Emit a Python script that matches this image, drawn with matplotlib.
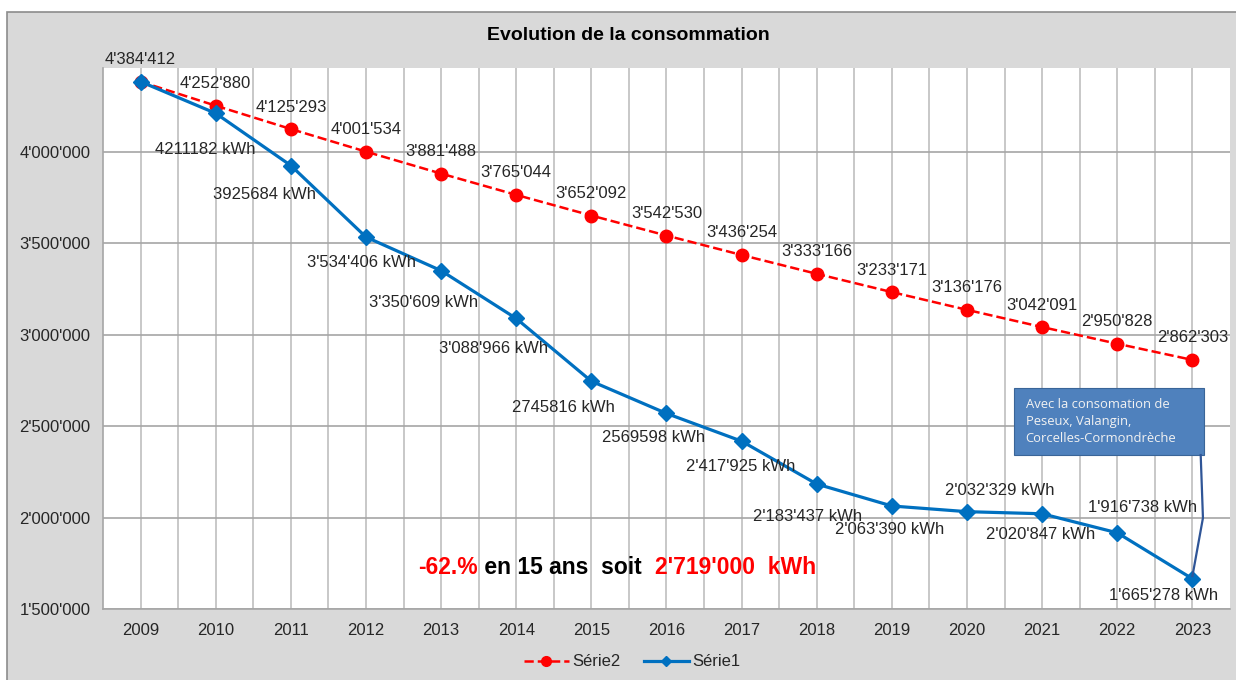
import matplotlib.pyplot as plt
from matplotlib.patches import Rectangle
from matplotlib.lines import Line2D
from matplotlib.ticker import FuncFormatter, MultipleLocator

plt.rcParams['font.family'] = ['Liberation Sans', 'DejaVu Sans']

# data
years = list(range(2009, 2024))
serie1 = [4384412, 4211182, 3925684, 3534406, 3350609, 3088966, 2745816, 2569598,
          2417925, 2183437, 2063390, 2032329, 2020847, 1916738, 1665278]
serie2 = [4384412, 4252880, 4125293, 4001534, 3881488, 3765044, 3652092, 3542530,
          3436254, 3333166, 3233171, 3136176, 3042091, 2950828, 2862303]
serie1_labels = ["", "4211182 kWh", "3925684 kWh", "3'534'406 kWh", "3'350'609 kWh",
                 "3'088'966 kWh", "2745816 kWh", "2569598 kWh", "2'417'925 kWh",
                 "2'183'437 kWh", "2'063'390 kWh", "2'032'329 kWh", "2'020'847 kWh",
                 "1'916'738 kWh", "1'665'278 kWh"]
# label offsets in pixels for serie1 (manual placement as in the original)
s1_offsets = [(0, 0), (-10, -36), (-26, -29), (-4, -25), (-18, -32), (-23, -30),
              (-28, -26), (-13, -24), (-1, -25), (-9, -32), (-2, -24), (33, 21),
              (-2, -21), (25, 25), (-29, -17)]

BLUE = '#0070C0'
RED = '#FF0000'
TXT = '#262626'

def apos(v, pos=None):
    return f"{v:,.0f}".replace(",", "'")

fig = plt.figure(figsize=(12.36, 6.8), dpi=100)
fig.patch.set_facecolor('white')
fig.patches.append(Rectangle((7 / 1236, -0.05), 1.1, 1 - 12 / 680 + 0.05,
                             transform=fig.transFigure, facecolor='#D9D9D9',
                             edgecolor='#8C8C8C', linewidth=1.2, zorder=-5))

ax = fig.add_axes([103 / 1236, 1 - 609 / 680, (1230 - 103) / 1236, (609 - 68) / 680])
ax.set_facecolor('white')

ax.plot(years, serie2, color=RED, linestyle='--', linewidth=1.8, marker='o',
        markersize=9, zorder=3)
ax.plot(years, serie1, color=BLUE, linestyle='-', linewidth=2.3, marker='D',
        markersize=8, zorder=4)

for x, y in zip(years, serie2):
    ax.annotate(apos(y), (x, y), xytext=(0, 22), textcoords='offset pixels',
                ha='center', va='center', fontsize=12, color=TXT, zorder=5)

for x, y, lab, off in zip(years, serie1, serie1_labels, s1_offsets):
    if lab:
        ax.annotate(lab, (x, y), xytext=off, textcoords='offset pixels',
                    ha='center', va='center', fontsize=12, color=TXT, zorder=5)

ax.set_xlim(2008.5, 2023.5)
ax.set_ylim(1500000, 4459000)
ax.set_xticks(years)
ax.set_xticks([y + 0.5 for y in years[:-1]], minor=True)
ax.yaxis.set_major_locator(MultipleLocator(500000))
ax.yaxis.set_major_formatter(FuncFormatter(apos))
ax.grid(True, which='both', axis='x', color='#BFBFBF', linewidth=1.2)
ax.grid(True, which='major', axis='y', color='#A6A6A6', linewidth=1.2)
ax.set_axisbelow(True)
ax.tick_params(which='both', length=0, labelsize=12, labelcolor=TXT)
ax.tick_params(axis='y', pad=9)
ax.tick_params(axis='x', pad=10)
for side in ['top', 'right']:
    ax.spines[side].set_visible(False)
for side in ['left', 'bottom']:
    ax.spines[side].set_color('#A6A6A6')
    ax.spines[side].set_linewidth(1.2)

# callout box
ax.add_patch(Rectangle((2020.63, 2342000), 2.52, 367000, facecolor='#4F81BD',
                       edgecolor='#3A6598', linewidth=0.8, zorder=6))
ax.text(2020.78, 2525000, "Avec la consomation de\nPeseux, Valangin,\nCorcelles-Cormondrèche",
        color='#F2F2F2', fontsize=9.4, family=['Open Sans', 'DejaVu Sans'],
        va='center', ha='left', linespacing=1.4, zorder=7)
ax.plot([2023.11, 2023.14, 2023.0], [2342000, 1998000, 1680000], color='#2F5597',
        linewidth=1.6, zorder=6, clip_on=False)

# summary text
t1 = ax.text(2012.7, 1729000, "-62.%", color=RED, fontsize=16.5, fontweight='bold',
             va='center', ha='left', zorder=6)
t2 = ax.annotate(" en 15 ans  soit  ", xy=(1, 0), xycoords=t1, va='bottom', ha='left',
                 fontsize=16.5, fontweight='bold', color='black', zorder=6)
ax.annotate("2'719'000  kWh", xy=(1, 0), xycoords=t2, va='bottom', ha='left',
            fontsize=16.5, fontweight='bold', color=RED, zorder=6)

fig.text(628 / 1236, 1 - 36 / 680, "Evolution de la consommation", ha='center',
         va='center', fontsize=14, fontweight='bold', color='black')

handles = [Line2D([], [], color=RED, linestyle='--', linewidth=1.8, marker='o', markersize=7),
           Line2D([], [], color=BLUE, linestyle='-', linewidth=2.3, marker='D', markersize=5)]
fig.legend(handles, ['Série2', 'Série1'], loc='center',
           bbox_to_anchor=(632 / 1236, 1 - 662 / 680), ncol=2, frameon=False,
           fontsize=12, labelcolor=TXT, handlelength=2.7, columnspacing=1.4,
           handletextpad=0.2)

fig.savefig('out.png', dpi=100)
